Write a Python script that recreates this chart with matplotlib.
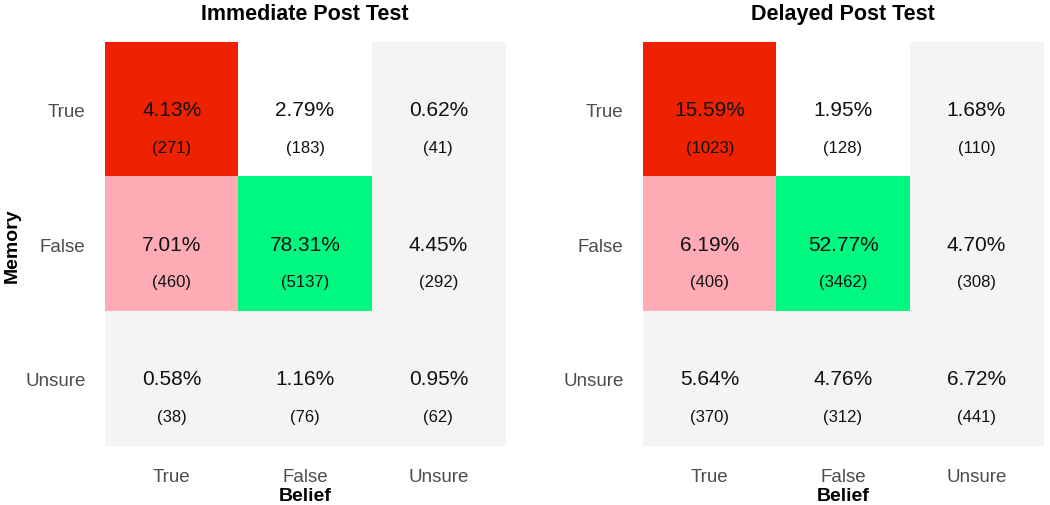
import numpy as np
import matplotlib
matplotlib.use("Agg")
import matplotlib.pyplot as plt
from matplotlib.colors import to_rgb

plt.rcParams['font.family'] = ['Liberation Sans', 'DejaVu Sans']

memory_labels = ['True', 'False', 'Unsure']
belief_labels = ['True', 'False', 'Unsure']

immediate_pct = [[4.13, 2.79, 0.62],
                 [7.01, 78.31, 4.45],
                 [0.58, 1.16, 0.95]]
immediate_n = [[271, 183, 41],
               [460, 5137, 292],
               [38, 76, 62]]

delayed_pct = [[15.59, 1.95, 1.68],
               [6.19, 52.77, 4.70],
               [5.64, 4.76, 6.72]]
delayed_n = [[1023, 128, 110],
             [406, 3462, 308],
             [370, 312, 441]]

# cell fill colours (row = memory, col = belief)
cell_colors = [['#ee2200', '#ffffff', '#f4f4f4'],
               ['#ffabb5', '#00f880', '#f4f4f4'],
               ['#f4f4f4', '#f4f4f4', '#f4f4f4']]


def draw_panel(ax, pct, counts, title):
    rgb = np.array([[to_rgb(c) for c in row] for row in cell_colors])
    ax.imshow(rgb, aspect='auto', interpolation='nearest')
    for i in range(len(memory_labels)):
        for j in range(len(belief_labels)):
            ax.text(j, i, f"{pct[i][j]:.2f}%", ha='center', va='center',
                    fontsize=15, color='#111111')
            ax.text(j, i + 0.28, f"({counts[i][j]})", ha='center', va='center',
                    fontsize=12, color='#111111')
    ax.set_xticks(range(3))
    ax.set_xticklabels(belief_labels)
    ax.set_yticks(range(3))
    ax.set_yticklabels(memory_labels)
    ax.tick_params(length=0, labelsize=13.5, labelcolor='#4d4d4d')
    ax.tick_params(axis='x', pad=16)
    ax.tick_params(axis='y', pad=14)
    for s in ax.spines.values():
        s.set_visible(False)
    ax.set_title(title, fontsize=15.5, fontweight='bold', pad=17)
    ax.set_xlabel('Belief', fontsize=14, fontweight='bold', labelpad=1)


fig = plt.figure(figsize=(10.5, 5.06), dpi=100)
ax1 = fig.add_axes([0.1, 0.1166, 0.381, 0.798])
ax2 = fig.add_axes([0.6124, 0.1166, 0.381, 0.798])

draw_panel(ax1, immediate_pct, immediate_n, 'Immediate Post Test')
draw_panel(ax2, delayed_pct, delayed_n, 'Delayed Post Test')

fig.text(0.012, 0.515, 'Memory', rotation=90, ha='center', va='center',
         fontsize=14, fontweight='bold')

fig.savefig('out.png', dpi=100)
